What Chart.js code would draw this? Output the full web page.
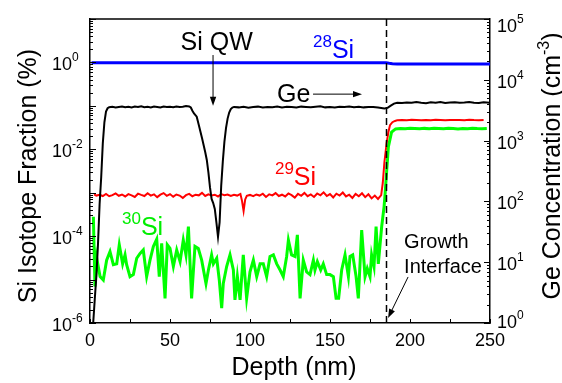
<!DOCTYPE html>
<html>
<head>
<meta charset="utf-8">
<script src="https://cdn.jsdelivr.net/npm/chart.js@4.4.1/dist/chart.umd.min.js"></script>
<style>
  body { margin: 0; background: #fff; }
</style>
</head>
<body>
<canvas id="simschart" width="562" height="383"></canvas>
<script>
// Ge concentration, right axis (cm^-3)
var geDepth = [1.5, 2, 3, 4, 5, 6, 7, 8, 9, 10, 11, 12,
  14, 16, 18, 20, 22, 24, 26, 28, 30, 32, 34, 36, 38, 40, 42, 44, 46, 48, 50, 52, 54, 56, 58, 60, 62,
  63, 64, 65, 66.7, 68, 70, 72,
  73, 74, 75, 76, 77, 78, 79, 80, 81, 82, 83, 84, 85, 86, 87, 88, 89, 90,
  93, 96, 99, 102, 105, 108, 111, 114, 117, 120, 123, 126, 129, 132, 135, 138, 141, 144, 147, 150,
  153, 156, 159, 162, 165, 168, 171, 174, 177, 180,
  182, 184, 186, 188, 190, 192,
  195, 198, 201, 204, 207, 210, 213, 216, 219, 222, 225, 228, 231, 234, 237, 240, 243, 246, 250];
var geConc = [0.5, 1, 2.5, 6, 20, 90, 250, 900, 2000, 3000, 3400, 3550,
  3600, 3520, 3580, 3650, 3540, 3600, 3500, 3620, 3560, 3680, 3550, 3600, 3520, 3640, 3580, 3500, 3620, 3560, 3600, 3540, 3650, 3580, 3600, 3700, 3650,
  3500, 3100, 2800, 2470, 1800, 1100, 650,
  480, 300, 170, 110, 94, 75, 45, 26, 45, 180, 450, 950, 1600, 2300, 2900, 3300, 3500, 3580,
  3520, 3600, 3480, 3560, 3620, 3500, 3580, 3540, 3650, 3520, 3600, 3560, 3500, 3620, 3580, 3540, 3600, 3660, 3520, 3580,
  3500, 3600, 3560, 3640, 3540, 3600, 3520, 3580, 3560, 3500,
  3450, 3380, 3450, 3750, 4050, 4200,
  4150, 4250, 4180, 4300, 4200, 4120, 4260, 4200, 4300, 4150, 4220, 4280, 4180, 4240, 4320, 4200, 4150, 4260, 4200];

// 28Si fraction, left axis
var si28Depth = [1, 20, 60, 100, 140, 180, 185, 187, 189, 192, 220, 250];
var si28Frac = [0.985, 0.985, 0.987, 0.985, 0.986, 0.985, 0.98, 0.955, 0.935, 0.925, 0.925, 0.925];

// 29Si fraction, left axis
var si29Depth = [2.5, 4, 6, 8, 10, 12, 14, 16, 18, 20, 22, 24, 26, 28, 30, 32, 34, 36, 38, 40, 42, 44, 46, 48,
  50, 52, 54, 56, 58, 60, 62, 64, 66, 68, 70, 72, 74, 76, 78, 80, 82, 84, 86, 88, 90, 92, 94,
  95, 96, 97,
  98, 100, 102, 104, 106, 108, 110, 112, 114, 116, 118, 120, 122, 124, 126, 128, 130, 132, 134, 136, 138, 140,
  142, 144, 146, 148, 150, 152, 154, 156, 158, 160, 162, 164, 166, 168, 170, 172, 174, 176, 178, 180, 182,
  183, 184, 185.4, 186.5, 187.5, 189, 190.6, 192,
  195, 198, 201, 204, 207, 210, 213, 216, 219, 222, 225, 228, 231, 234, 237, 240, 243, 246];
var si29Frac = [9.2e-4, 8.6e-4, 9.0e-4, 8.4e-4, 9.4e-4, 8.3e-4, 8.8e-4, 9.6e-4, 8.5e-4, 9.1e-4, 8.2e-4, 9.3e-4, 8.7e-4, 8.0e-4, 9.5e-4, 8.9e-4, 8.4e-4, 9.7e-4, 8.6e-4, 9.2e-4, 7.9e-4, 9.0e-4, 9.8e-4, 8.5e-4,
  9.3e-4, 8.1e-4, 9.1e-4, 8.6e-4, 7.6e-4, 8.8e-4, 9.4e-4, 8.3e-4, 9.0e-4, 8.7e-4, 9.9e-4, 8.4e-4, 9.2e-4, 8.6e-4, 9.0e-4, 8.2e-4, 9.3e-4, 8.8e-4, 9.1e-4, 8.4e-4, 9.0e-4, 8.6e-4, 9.4e-4,
  6.5e-4, 3.8e-4, 7.0e-4,
  8.5e-4, 8.9e-4, 8.3e-4, 9.1e-4, 8.6e-4, 9.5e-4, 8.0e-4, 9.2e-4, 8.7e-4, 9.8e-4, 8.4e-4, 9.0e-4, 8.2e-4, 9.6e-4, 8.8e-4, 7.7e-4, 9.4e-4, 8.5e-4, 9.9e-4, 8.3e-4, 9.1e-4, 8.0e-4,
  9.6e-4, 8.7e-4, 10.2e-4, 8.4e-4, 9.3e-4, 7.8e-4, 9.5e-4, 8.6e-4, 10.1e-4, 8.2e-4, 9.0e-4, 7.6e-4, 9.4e-4, 8.3e-4, 9.7e-4, 7.9e-4, 9.2e-4, 7.4e-4, 8.6e-4, 7.2e-4, 8.8e-4,
  17e-4, 50e-4, 138e-4, 250e-4, 360e-4, 420e-4, 450e-4, 465e-4,
  472e-4, 468e-4, 476e-4, 470e-4, 465e-4, 474e-4, 469e-4, 478e-4, 471e-4, 466e-4, 475e-4, 470e-4, 473e-4, 467e-4, 476e-4, 471e-4, 469e-4, 474e-4];

// 30Si fraction, left axis
var si30Depth = [2.1, 3.1, 4.2, 6.3, 8.3, 10.4, 12.5, 14.6, 16.7, 18.3, 20.4, 21.9, 22.9, 25, 27.1, 29.2, 31.3, 33.3, 35.4, 37.5,
  39.6, 41.7, 43.3, 44.8, 46.9, 48.3, 50, 52.1, 54.2, 56.3, 58.3, 60, 61.5, 63.5, 65.6, 67.7, 69.8, 72.5, 74, 76,
  77.1, 79.2, 80.8, 82.3, 83.3, 85.4, 87.5, 89.6, 90.6, 92.1, 93.8, 95.8, 97.9, 100, 102.1, 104.2, 106.3, 108.3, 110.4, 112.5,
  114.6, 116.7, 118.8, 120.8, 122.9, 124, 126, 128.1, 129.6, 131.3, 133.3, 135.4, 137.5, 139.6, 140.6, 142.1, 144.2, 145.8, 147.9, 150,
  152.1, 153.8, 155.4, 157.3, 159.4, 161.5, 162.5, 164.2, 166.3, 167.7, 169.8, 171.9, 173.3, 175, 176, 177.5, 178.8, 180.2, 182.3, 183.8,
  184.5, 185.5, 186.5, 188.5, 191,
  194, 197, 200, 203, 206, 209, 212, 215, 218, 221, 224, 227, 230, 233, 236, 239, 242, 245, 248];
var si30Frac = [2.8e-4, 6.9e-6, 3.1e-5, 1.17e-5, 9.8e-6, 2.8e-5, 4.4e-5, 2.2e-5, 2.3e-5, 6.3e-5, 2.3e-5, 3.7e-5, 2.2e-5, 1.17e-5, 1.3e-5, 3.1e-5, 4.0e-5, 4.8e-5, 1.17e-5, 2.8e-5,
  5.8e-5, 8.5e-5, 1.17e-5, 6.8e-5, 3.7e-6, 6.3e-5, 5.2e-5, 2.0e-5, 4.8e-5, 2.6e-5, 8.1e-5, 3.7e-5, 1.66e-4, 3.7e-6, 5.8e-5, 5.2e-5, 2.8e-5, 8.1e-6, 1.66e-5, 3.7e-5,
  2.3e-5, 3.1e-5, 9.8e-6, 2.2e-6, 8.1e-6, 2.0e-5, 3.7e-5, 1.66e-5, 3.4e-6, 1.17e-5, 3.4e-6, 3.7e-5, 3.7e-6, 1.5e-5, 2.8e-5, 1.17e-5, 2.3e-5, 2.3e-5, 1.17e-5, 3.4e-5,
  3.7e-5, 2.3e-5, 1.66e-5, 1.17e-5, 3.4e-5, 8.1e-5, 3.7e-5, 3.4e-5, 1.07e-4, 3.7e-6, 2.8e-5, 1.5e-5, 1.3e-5, 2.8e-5, 1.66e-5, 2.6e-5, 1.66e-5, 2.3e-5, 1.3e-5, 1.3e-5,
  1.17e-5, 3.7e-6, 3.7e-6, 1.66e-5, 3.7e-5, 1.17e-5, 3.4e-5, 3.7e-5, 1.17e-5, 3.7e-6, 1.38e-4, 1.17e-5, 1.8e-5, 1.17e-5, 3.7e-5, 2.0e-5, 1.66e-4, 2.3e-5, 1.66e-4, 4.8e-4,
  1.0e-3, 3.5e-3, 1.15e-2, 2.5e-2, 2.95e-2,
  0.0302, 0.0298, 0.0305, 0.0300, 0.0296, 0.0303, 0.0299, 0.0306, 0.0301, 0.0297, 0.0304, 0.0300, 0.0295, 0.0302, 0.0298, 0.0305, 0.0300, 0.0297, 0.0301];

var leftLabelExps = [-6, -4, -2, 0];
var rightLabelExps = [0, 1, 2, 3, 4, 5];
var interfaceDepth = 185;

function pairs(xs, ys) {
  return xs.map(function(x, i) { return { x: x, y: ys[i] }; });
}

var FONT = '"Liberation Sans", Arial, sans-serif';

function arrow(ctx, x1, y1, x2, y2) {
  var ang = Math.atan2(y2 - y1, x2 - x1), len = 9, half = 3.2;
  ctx.beginPath();
  ctx.moveTo(x1, y1);
  ctx.lineTo(x2 - Math.cos(ang) * len * 0.8, y2 - Math.sin(ang) * len * 0.8);
  ctx.stroke();
  ctx.beginPath();
  ctx.moveTo(x2, y2);
  ctx.lineTo(x2 - Math.cos(ang) * len - Math.sin(ang) * half, y2 - Math.sin(ang) * len + Math.cos(ang) * half);
  ctx.lineTo(x2 - Math.cos(ang) * len + Math.sin(ang) * half, y2 - Math.sin(ang) * len - Math.cos(ang) * half);
  ctx.closePath();
  ctx.fill();
}

// label like 28Si with a raised mass number
function isoLabel(ctx, sup, x, yBase, color) {
  ctx.fillStyle = color;
  ctx.textAlign = 'left';
  ctx.font = '17px ' + FONT;
  ctx.fillText(sup, x, yBase - 11);
  var w = ctx.measureText(sup).width;
  ctx.font = '25px ' + FONT;
  ctx.fillText('Si', x + w, yBase);
}

var decor = {
  id: 'decor',
  afterDraw: function(chart) {
    var ctx = chart.ctx, a = chart.chartArea;
    var sx = chart.scales.x, sl = chart.scales.y, sr = chart.scales.y2;
    var fx = function(d) { return sx.getPixelForValue(d); };
    var fl = function(e) { return sl.getPixelForValue(Math.pow(10, e)); };
    ctx.save();
    ctx.strokeStyle = '#000';
    ctx.fillStyle = '#000';
    ctx.lineWidth = 1.5;

    // top frame line
    ctx.beginPath();
    ctx.moveTo(a.left, a.top);
    ctx.lineTo(a.right, a.top);
    ctx.stroke();

    // inward tick marks
    ctx.lineWidth = 1;
    for (var d = 0; d <= 250; d += 25) {
      var px = Math.round(fx(d)) + 0.5;
      ctx.beginPath();
      ctx.moveTo(px, a.bottom);
      ctx.lineTo(px, a.bottom - 4);
      ctx.stroke();
    }
    for (var e = -6; e <= 1; e++) {
      for (var m = 1; m <= 9; m++) {
        var v = m * Math.pow(10, e);
        if (v > 10.0001) break;
        var py = Math.round(sl.getPixelForValue(v)) + 0.5;
        ctx.beginPath();
        ctx.moveTo(a.left, py);
        ctx.lineTo(a.left + (m === 1 ? 6 : 3), py);
        ctx.stroke();
      }
    }
    for (var e2 = 0; e2 <= 5; e2++) {
      for (var m2 = 1; m2 <= 9; m2++) {
        var v2 = m2 * Math.pow(10, e2);
        if (v2 > 100001) break;
        var py2 = Math.round(sr.getPixelForValue(v2)) + 0.5;
        ctx.beginPath();
        ctx.moveTo(a.right, py2);
        ctx.lineTo(a.right - (m2 === 1 ? 6 : 3), py2);
        ctx.stroke();
      }
    }

    // power-of-ten tick labels
    ctx.textAlign = 'left';
    ctx.textBaseline = 'alphabetic';
    leftLabelExps.forEach(function(ex) {
      var y = sl.getPixelForValue(Math.pow(10, ex));
      ctx.font = '18px ' + FONT;
      ctx.fillText('10', 52, y + 8);
      ctx.font = '12px ' + FONT;
      ctx.fillText(String(ex), 72, y - 1);
    });
    rightLabelExps.forEach(function(ex) {
      var y = sr.getPixelForValue(Math.pow(10, ex));
      var base = Math.min(Math.max(y + 8, 32), 328);
      ctx.font = '18px ' + FONT;
      ctx.fillText('10', a.right + 7, base);
      ctx.font = '12px ' + FONT;
      ctx.fillText(String(ex), a.right + 27, base - 9);
    });

    // axis titles
    ctx.font = '25px ' + FONT;
    ctx.textAlign = 'center';
    ctx.fillText('Depth (nm)', (a.left + a.right) / 2 + 4, 375);

    ctx.save();
    ctx.translate(29, 176);
    ctx.rotate(-Math.PI / 2);
    ctx.textBaseline = 'middle';
    ctx.fillText('Si Isotope Fraction (%)', 0, 0);
    ctx.restore();

    ctx.save();
    ctx.translate(560, 166);
    ctx.rotate(-Math.PI / 2);
    ctx.textAlign = 'left';
    ctx.textBaseline = 'alphabetic';
    var t1 = 'Ge Concentration (cm', t2 = '-3', t3 = ')';
    ctx.font = '25px ' + FONT;
    var w1 = ctx.measureText(t1).width, w3 = ctx.measureText(t3).width;
    ctx.font = '16px ' + FONT;
    var w2 = ctx.measureText(t2).width;
    var x0 = -(w1 + w2 + w3) / 2;
    ctx.font = '25px ' + FONT;
    ctx.fillText(t1, x0, 0);
    ctx.fillText(t3, x0 + w1 + w2, 0);
    ctx.font = '16px ' + FONT;
    ctx.fillText(t2, x0 + w1, -11);
    ctx.restore();

    // growth interface marker
    ctx.lineWidth = 1.5;
    ctx.setLineDash([7, 4]);
    ctx.beginPath();
    ctx.moveTo(Math.round(fx(interfaceDepth)) + 0.5, a.top);
    ctx.lineTo(Math.round(fx(interfaceDepth)) + 0.5, a.bottom);
    ctx.stroke();
    ctx.setLineDash([]);

    // annotations
    ctx.textAlign = 'center';
    ctx.font = '25px ' + FONT;
    ctx.fillText('Si QW', fx(79.2), fl(0.29));
    ctx.lineWidth = 1;
    arrow(ctx, fx(76.9), fl(0.17), fx(76.9), fl(-1.0));

    ctx.textAlign = 'left';
    ctx.fillText('Ge', fx(116.9), fl(-0.91));
    arrow(ctx, fx(139.4), fl(-0.73), fx(170), fl(-0.73));

    isoLabel(ctx, '28', fx(139.4), fl(0.10), '#0000ff');
    isoLabel(ctx, '29', fx(115.6), fl(-2.82), '#ff0000');
    isoLabel(ctx, '30', fx(20), fl(-3.97), '#00ee00');

    ctx.fillStyle = '#000';
    ctx.font = '20px ' + FONT;
    ctx.fillText('Growth', fx(196.3), fl(-4.28));
    ctx.fillText('Interface', fx(196.3), fl(-4.86));
    arrow(ctx, fx(198.8), fl(-4.94), fx(186.3), fl(-5.885));

    ctx.restore();
  }
};

var ctx = document.getElementById('simschart').getContext('2d');
var simschart = new Chart(ctx, {
  type: 'line',
  data: {
    datasets: [
      { label: 'Ge', data: pairs(geDepth, geConc), yAxisID: 'y2', borderColor: '#000', borderWidth: 2 },
      { label: '30Si', data: pairs(si30Depth, si30Frac), yAxisID: 'y', borderColor: '#00ff00', borderWidth: 3 },
      { label: '29Si', data: pairs(si29Depth, si29Frac), yAxisID: 'y', borderColor: '#ff0000', borderWidth: 2 },
      { label: '28Si', data: pairs(si28Depth, si28Frac), yAxisID: 'y', borderColor: '#0000ff', borderWidth: 3 }
    ]
  },
  options: {
    responsive: false,
    animation: false,
    layout: { padding: { top: 19 } },
    elements: { point: { radius: 0 }, line: { tension: 0, fill: false } },
    plugins: { legend: { display: false }, tooltip: { enabled: false } },
    scales: {
      x: {
        type: 'linear', min: 0, max: 250,
        grid: { display: false, drawTicks: false },
        border: { display: true, color: '#000', width: 1.5 },
        ticks: { stepSize: 50, padding: 7, color: '#000', font: { family: FONT, size: 18 }, maxRotation: 0 },
        afterFit: function(s) { s.height = 60; }
      },
      y: {
        type: 'logarithmic', position: 'left', min: 1e-6, max: 10,
        grid: { display: false, drawTicks: false },
        border: { display: true, color: '#000', width: 1.5 },
        ticks: { display: false },
        afterFit: function(s) { s.width = 90; }
      },
      y2: {
        type: 'logarithmic', position: 'right', min: 1, max: 1e5,
        grid: { display: false, drawTicks: false },
        border: { display: true, color: '#000', width: 1.5 },
        ticks: { display: false },
        afterFit: function(s) { s.width = 72; }
      }
    }
  },
  plugins: [decor]
});
</script>
</body>
</html>
